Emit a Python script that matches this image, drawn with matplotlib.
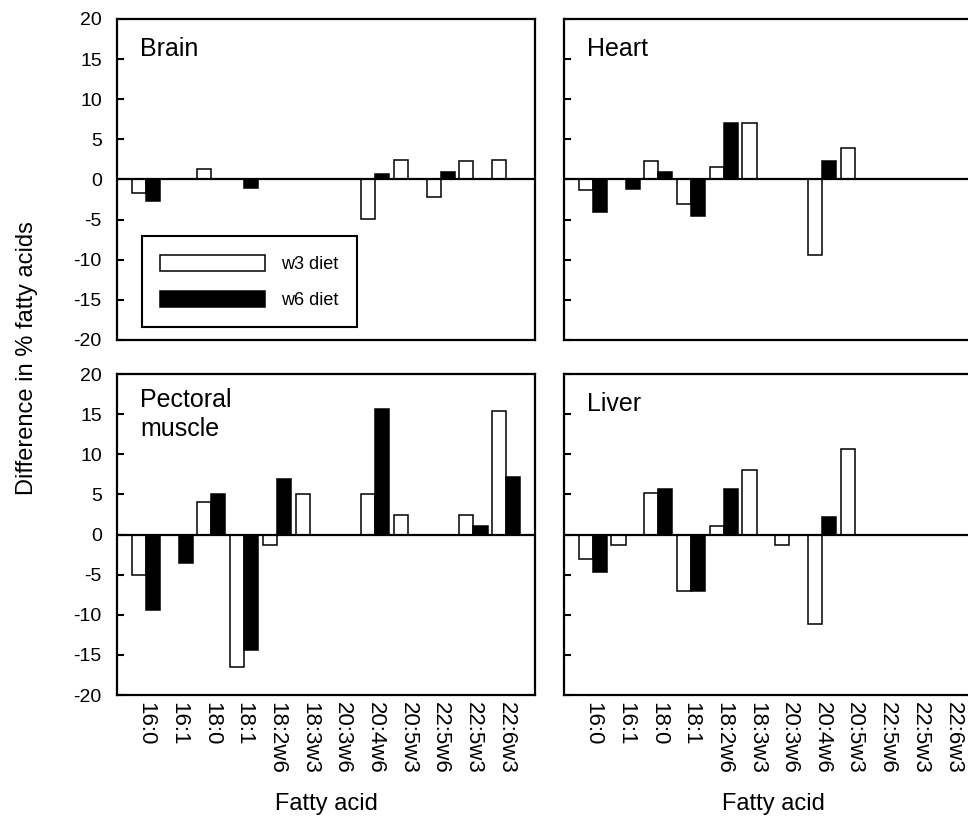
import numpy as np
import matplotlib
matplotlib.use('Agg')
import matplotlib.pyplot as plt

plt.rcParams['font.family'] = ['Liberation Sans', 'DejaVu Sans']
plt.rcParams['axes.unicode_minus'] = False

fatty_acids = ['16:0', '16:1', '18:0', '18:1', '18:2w6', '18:3w3',
               '20:3w6', '20:4w6', '20:5w3', '22:5w6', '22:5w3', '22:6w3']

brain_w3 = [-1.7, 0, 1.3, 0, 0, 0, 0, -4.9, 2.4, -2.2, 2.3, 2.4]
brain_w6 = [-2.7, 0, 0, -1.0, 0, 0, 0, 0.7, 0, 0.9, 0, 0]

heart_w3 = [-1.3, 0, 2.3, -3.0, 1.6, 7.1, 0, -9.4, 3.9, 0, 0, 0]
heart_w6 = [-4.1, -1.2, 0.9, -4.5, 7.1, 0, 0, 2.3, 0, 0, 0, 0]

pectoral_w3 = [-5.1, 0, 4.0, -16.5, -1.3, 5.0, 0, 5.0, 2.4, 0, 2.4, 15.4]
pectoral_w6 = [-9.4, -3.6, 5.0, -14.4, 6.9, 0, 0, 15.7, 0, 0, 1.1, 7.2]

liver_w3 = [-3.1, -1.3, 5.2, -7.0, 1.0, 8.1, -1.3, -11.2, 10.7, 0, 0, 0]
liver_w6 = [-4.7, 0, 5.7, -7.0, 5.7, 0, 0, 2.2, 0, 0, 0, 0]

panels = [
    ('Brain', brain_w3, brain_w6),
    ('Heart', heart_w3, heart_w6),
    ('Pectoral\nmuscle', pectoral_w3, pectoral_w6),
    ('Liver', liver_w3, liver_w6),
]

fig = plt.figure(figsize=(9.68, 8.22), dpi=100)

# axes positions in figure fraction (right column runs off the edge like the original)
x_left = [0.1209, 0.5826]
y_bottom = [0.5864, 0.1545]
w, h = 0.4318, 0.3905

x = np.arange(len(fatty_acids))
bw = 0.43

for i, (name, w3, w6) in enumerate(panels):
    row, col = divmod(i, 2)
    ax = fig.add_axes([x_left[col], y_bottom[row], w, h])

    ax.bar(x - bw / 2, w3, width=bw, color='white', edgecolor='black', linewidth=1.1, label='w3 diet', zorder=2)
    ax.bar(x + bw / 2, w6, width=bw, color='black', edgecolor='black', linewidth=1.1, label='w6 diet', zorder=2)
    ax.axhline(0, color='black', linewidth=1.6, zorder=3)

    ax.set_xlim(-0.88, 11.88)
    ax.set_ylim(-20, 20)
    ax.set_yticks(np.arange(-20, 21, 5))
    ax.tick_params(axis='y', direction='in', length=5, width=1.5, labelsize=14, pad=11)
    ax.tick_params(axis='x', length=0)
    for s in ax.spines.values():
        s.set_linewidth(1.6)

    if col == 1:
        ax.set_yticklabels([])
    ax.set_xticks(x)
    if row == 0:
        ax.set_xticklabels([])
    else:
        ax.set_xticklabels(fatty_acids, rotation=270, fontsize=16)
        ax.tick_params(axis='x', pad=5)
        ax.set_xlabel('Fatty acid', fontsize=17, labelpad=14)

    ty = 0.955 if '\n' in name else 0.945
    ax.text(0.055, ty, name, transform=ax.transAxes, fontsize=18, va='top', ha='left',
            linespacing=1.25)

    if i == 0:
        leg = ax.legend(loc='lower left', bbox_to_anchor=(0.06, 0.04), borderaxespad=0,
                        fontsize=13, handlelength=5.8, handleheight=1.0, labelspacing=1.0,
                        borderpad=1.0, handletextpad=0.9, fancybox=False, framealpha=1,
                        edgecolor='black')
        leg.get_frame().set_linewidth(1.5)

fig.text(0.028, 0.565, 'Difference in % fatty acids', rotation=90, fontsize=17, va='center', ha='center')

plt.savefig('out.png', dpi=100)
plt.close()
